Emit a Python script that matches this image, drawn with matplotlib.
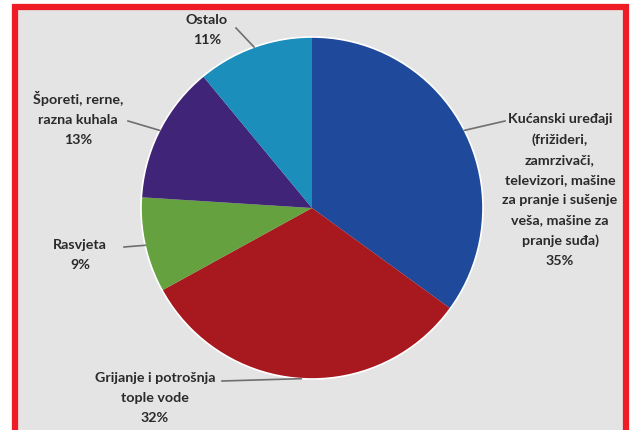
import numpy as np
import matplotlib
matplotlib.use("Agg")
import matplotlib.pyplot as plt
from matplotlib.patches import Rectangle

# podaci
kategorije = ["Kućanski uređaji\n(frižideri,\nzamrzivači,\ntelevizori, mašine\nza pranje i sušenje\nveša, mašine za\npranje suđa)",
              "Grijanje i potrošnja\ntople vode",
              "Rasvjeta",
              "Šporeti, rerne,\nrazna kuhala",
              "Ostalo"]
procenti = [35, 32, 9, 13, 11]
boje = ["#1f4a9c", "#a8191f", "#66a13f", "#3f2478", "#1b8ebc"]

# mjesta za tekst (pikseli, y od vrha)
tekst_xy = [(560, 190), (155, 398), (80, 255), (78, 118), (207, 30)]
kraj_linije = [(505, 121), (222, 381), (124, 247), (128, 121), (236, 28)]

W, H = 631, 430
fig = plt.figure(figsize=(W / 100, H / 100), dpi=100)
ax = fig.add_axes([0, 0, 1, 1])

# okvir
ax.add_patch(Rectangle((14.5, -10), 611, H - 6.5 + 10, facecolor="#e4e4e4",
                       edgecolor="#ee1c25", linewidth=4.5, zorder=0))

cx, cy, r = 312, H - 208, 171
wedges, _ = ax.pie(procenti, colors=boje, startangle=90, counterclock=False,
                   center=(cx, cy), radius=r, frame=True,
                   wedgeprops=dict(edgecolor="none"))
ax.add_patch(plt.Circle((cx, cy), r, fill=False, edgecolor="white", linewidth=1.2, zorder=3))
ax.set_xlim(0, W)
ax.set_ylim(0, H)
ax.set_aspect("equal")
ax.axis("off")

for w, kat, p, (tx, ty), (lx, ly) in zip(wedges, kategorije, procenti, tekst_xy, kraj_linije):
    ug = np.deg2rad((w.theta1 + w.theta2) / 2)
    ex, ey = cx + r * np.cos(ug), cy + r * np.sin(ug)
    ax.text(tx, H - ty, f"{kat}\n{p}%", ha="center", va="center", fontsize=10.3,
            family="Lato", weight="bold", color="#2a2a2a", linespacing=1.8, zorder=5)
    ax.plot([lx, ex], [H - ly, ey], color="#6f6f6f", linewidth=1.2, zorder=4)

fig.savefig("out.png", dpi=100)
